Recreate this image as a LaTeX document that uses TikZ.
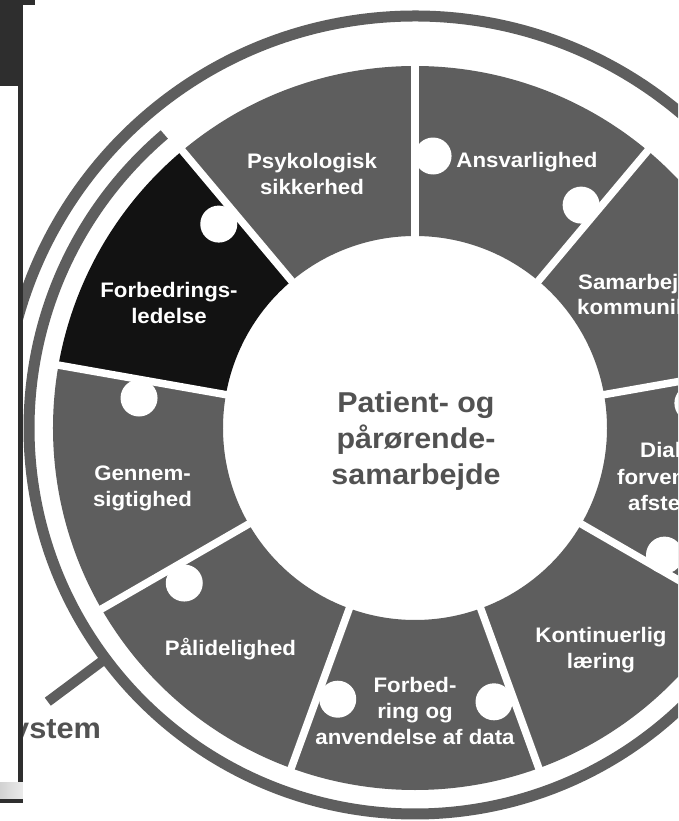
\documentclass[tikz,border=0pt]{standalone}
\usepackage{fontspec}
\setmainfont{Liberation Sans}[FakeStretch=1.06]
\usetikzlibrary{
  calc}

\definecolor{segcolor}{RGB}{94,94,94}
\definecolor{leadcolor}{RGB}{18,18,18}
\definecolor{ringcolor}{RGB}{94,94,94}
\definecolor{hubtextcolor}{RGB}{82,82,82}
\definecolor{panelcolor}{RGB}{46,46,46}
\definecolor{barcolor}{RGB}{210,210,210}

\tikzset{
  %% segtext : white label inside a wheel segment
  segtext/.style={
    text=white,
    font=\bfseries\fontsize{21}{26}\selectfont,
    align=center,
    inner sep=0pt
  },
  %% edgetext : segment label running off the right edge
  edgetext/.style={
    segtext,
    anchor=base west
  },
  %% hubtext : text in the hub of the wheel
  hubtext/.style={
    text=hubtextcolor,
    font=\bfseries\fontsize{28.7}{36}\selectfont,
    align=center,
    inner sep=0pt
  },
  %% knob : white puzzle notch on a gap
  knob/.style={fill=white},
  %% gapline : white gap between two segments
  gapline/.style={white, line width=7.5pt},
  %% ring : grey band round the wheel
  ring/.style={ringcolor, line width=11pt}
}

\begin{document}
\begin{tikzpicture}
  [x=1pt,
  y=1pt]

  \useasboundingbox (-415,-393) rectangle (263,428);
  \clip (-415,-393) rectangle (263,428);
  \fill [white] (-415,-393) rectangle (263,428);

  %% Rings
  \draw [ring] (185:412pt) arc[start angle=185, end angle=20, radius=412pt];
  \draw [ring] (130.5:386pt) arc[start angle=130.5, end angle=320, radius=386pt];

  \coordinate (sysin) at (216.7:386pt);
  \coordinate (sysout) at (216.7:458pt);
  \draw [ring, line width=10pt] (sysin) -- (sysout);

  %% Segments
  \foreach \from/\to/\col in {10/50/segcolor, 50/90/segcolor, 90/130/segcolor,
    130/170/leadcolor, 170/210/segcolor, 210/250/segcolor, 250/290/segcolor,
    290/330/segcolor, 330/370/segcolor}
    \fill [\col] (\from:192pt) arc[start angle=\from, end angle=\to, radius=192pt]
      -- (\to:362pt) arc[start angle=\to, end angle=\from, radius=362pt] -- cycle;

  %% Gaps and notches
  \foreach \a in {10,50,...,330}
    \draw [gapline] (\a:185pt) -- (\a:370pt);
  \foreach \a/\r in {133.9/283pt, 86.2/272.6pt, 53.3/278pt, 5.1/279pt, -27/280pt,
    -73.9/285pt, -105.9/282pt, -146.1/278pt, 173.8/277.6pt}
    \fill [knob] (\a:\r) circle[radius=18.5pt];

  %% Labels
  \node (hub) [hubtext] at (1,-13) {Patient- og\\pårørende-\\samarbejde};

  \node (psyk) [segtext] at (-103,254) {Psykologisk\\sikkerhed};
  \node (ansvar) [segtext] at (112,265.5) {Ansvarlighed};
  \node (samarb1) [edgetext] at (163,138) {Samarbej};
  \node (samarb2) [edgetext] at (162,113) {kommunik};
  \node (dial1) [edgetext] at (225,-30) {Dial};
  \node (dial2) [edgetext] at (202,-57) {forven};
  \node (dial3) [edgetext] at (213,-82) {afste};
  \node (kontin) [segtext] at (186,-222) {Kontinuerlig\\læring};
  \node (data) [segtext] at (0,-283.4) {Forbed-\\ring og\\anvendelse af data};
  \node (paalid) [segtext] at (-184.5,-221.5) {Pålidelighed};
  \node (gennem) [segtext] at (-272.5,-60.7) {Gennem-\\sigtighed};
  \node (forbled) [segtext] at (-246,124.6) {Forbedrings-\\ledelse};

  \node (system) [anchor=base west, inner sep=0pt, text=hubtextcolor,
    font=\bfseries\fontsize{29}{34}\selectfont] at (-403,-310) {ystem};

  %% Side panel
  \fill [white] (-415,342) rectangle (-396.7,-393);
  \fill [panelcolor] (-415,428) rectangle (-392,342);
  \fill [panelcolor] (-415,428) rectangle (-380,423);
  \fill [panelcolor] (-396.7,342) rectangle (-392.3,-354);
  \shade [left color=barcolor, right color=barcolor!45]
    (-415,-354) rectangle (-392,-371);
  \fill [panelcolor] (-415,-371) rectangle (-392,-375);

\end{tikzpicture}
\end{document}
